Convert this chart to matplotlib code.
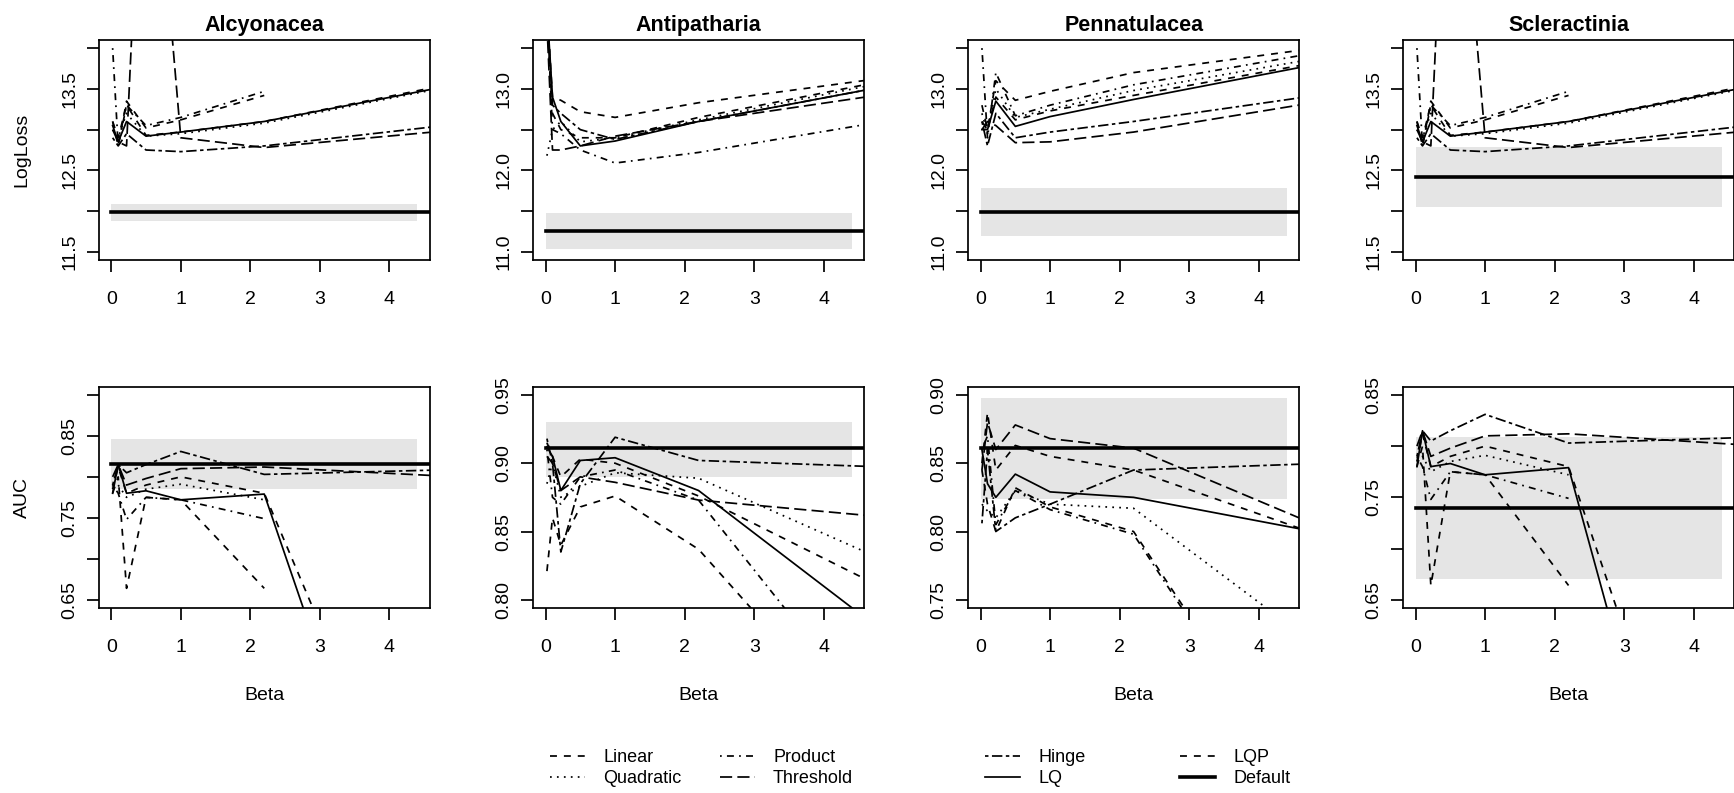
import numpy as np
import matplotlib.pyplot as plt
from matplotlib.lines import Line2D

plt.rcParams['font.family'] = ['Liberation Sans', 'DejaVu Sans']

nan = np.nan

# regularisation multipliers (last point lies beyond the plotted range)
beta = [0.02, 0.1, 0.22, 0.5, 1.0, 2.2, 5.0]

taxa = ['Alcyonacea', 'Antipatharia', 'Pennatulacea', 'Scleractinia']
features = ['Linear', 'Quadratic', 'Product', 'Threshold', 'Hinge', 'LQ', 'LQP']

# ---- LogLoss curves ----
alcy_loss = {
    'Linear':    [13.10, 12.80, 13.35, 13.02, 13.12, 13.42, nan],
    'Quadratic': [13.00, 12.90, 13.20, 12.92, 12.95, 13.08, 13.55],
    'Product':   [14.00, 12.80, 13.30, 13.05, 13.15, 13.47, nan],
    'Threshold': [13.00, 12.85, 12.80, 17.90, 12.90, 12.78, 13.00],
    'Hinge':     [12.90, 12.80, 12.95, 12.75, 12.73, 12.80, 13.07],
    'LQ':        [13.05, 12.85, 13.10, 12.92, 12.97, 13.10, 13.56],
    'LQP':       [13.10, 12.90, 13.30, 12.93, 12.97, 13.10, 13.58],
}
anti_loss = {
    'Linear':    [14.00, 12.90, 12.86, 12.72, 12.65, 12.83, 13.15],
    'Quadratic': [12.18, 12.50, 12.60, 12.35, 12.40, 12.62, 13.10],
    'Product':   [14.00, 12.50, 12.45, 12.25, 12.09, 12.22, 12.62],
    'Threshold': [13.80, 12.25, 12.25, 12.30, 12.42, 12.60, 12.95],
    'Hinge':     [14.00, 12.80, 12.70, 12.50, 12.38, 12.60, 13.05],
    'LQ':        [14.00, 12.90, 12.60, 12.30, 12.36, 12.60, 13.05],
    'LQP':       [13.90, 12.70, 12.50, 12.40, 12.40, 12.65, 13.12],
}
penn_loss = {
    'Linear':    [12.60, 12.50, 13.10, 12.86, 12.97, 13.20, 13.52],
    'Quadratic': [12.70, 12.45, 13.00, 12.65, 12.75, 12.98, 13.40],
    'Product':   [13.50, 12.40, 13.20, 12.67, 12.80, 13.05, 13.47],
    'Threshold': [12.50, 12.60, 12.55, 12.34, 12.35, 12.47, 12.86],
    'Hinge':     [12.60, 12.30, 12.70, 12.40, 12.47, 12.60, 12.94],
    'LQ':        [12.50, 12.50, 12.85, 12.54, 12.66, 12.87, 13.33],
    'LQP':       [12.80, 12.50, 12.90, 12.62, 12.73, 12.92, 13.35],
}
# Scleractinia curves are drawn identical to Alcyonacea in the source figure
scle_loss = alcy_loss

# ---- AUC curves ----
alcy_auc = {
    'Linear':    [0.780, 0.800, 0.664, 0.775, 0.772, 0.664, nan],
    'Quadratic': [0.785, 0.790, 0.775, 0.785, 0.791, 0.772, nan],
    'Product':   [0.790, 0.780, 0.748, 0.775, 0.772, 0.749, nan],
    'Threshold': [0.800, 0.815, 0.790, 0.798, 0.810, 0.812, 0.800],
    'Hinge':     [0.790, 0.815, 0.805, 0.815, 0.831, 0.803, 0.809],
    'LQ':        [0.780, 0.815, 0.780, 0.783, 0.772, 0.779, 0.085],
    'LQP':       [0.785, 0.812, 0.780, 0.790, 0.800, 0.780, 0.220],
}
anti_auc = {
    'Linear':    [0.821, 0.860, 0.840, 0.868, 0.876, 0.837, 0.677],
    'Quadratic': [0.885, 0.900, 0.875, 0.883, 0.893, 0.889, 0.826],
    'Product':   [0.910, 0.875, 0.870, 0.890, 0.895, 0.873, 0.694],
    'Threshold': [0.905, 0.900, 0.880, 0.890, 0.886, 0.873, 0.860],
    'Hinge':     [0.918, 0.900, 0.835, 0.885, 0.919, 0.902, 0.897],
    'LQ':        [0.912, 0.905, 0.880, 0.902, 0.904, 0.880, 0.771],
    'LQP':       [0.915, 0.905, 0.890, 0.903, 0.900, 0.876, 0.805],
}
penn_auc = {
    'Linear':    [0.845, 0.820, 0.800, 0.832, 0.818, 0.800, 0.585],
    'Quadratic': [0.820, 0.815, 0.810, 0.830, 0.820, 0.817, 0.710],
    'Product':   [0.860, 0.870, 0.805, 0.830, 0.816, 0.798, 0.580],
    'Threshold': [0.845, 0.880, 0.860, 0.878, 0.868, 0.861, 0.801],
    'Hinge':     [0.806, 0.860, 0.800, 0.810, 0.820, 0.845, 0.850],
    'LQ':        [0.860, 0.835, 0.825, 0.842, 0.829, 0.825, 0.798],
    'LQP':       [0.850, 0.887, 0.845, 0.863, 0.855, 0.845, 0.795],
}
scle_auc = alcy_auc

loss_curves = [alcy_loss, anti_loss, penn_loss, scle_loss]
auc_curves = [alcy_auc, anti_auc, penn_auc, scle_auc]

# default model value and its interval (grey band)
default_loss = [11.99, 11.26, 11.49, 12.42]
band_loss_lo = [11.88, 11.03, 11.20, 12.05]
band_loss_hi = [12.09, 11.48, 11.78, 12.79]
default_auc = [0.816, 0.911, 0.861, 0.740]
band_auc_lo = [0.785, 0.890, 0.824, 0.670]
band_auc_hi = [0.846, 0.930, 0.898, 0.809]

# axis ranges and tick labels
loss_range = [(11.5, 14.0), (11.0, 13.5), (11.0, 13.5), (11.5, 14.0)]
loss_labels = [['11.5', '12.5', '13.5'], ['11.0', '12.0', '13.0'],
               ['11.0', '12.0', '13.0'], ['11.5', '12.5', '13.5']]
auc_range = [(0.65, 0.90), (0.80, 0.95), (0.75, 0.90), (0.65, 0.85)]
auc_labels = [['0.65', '0.75', '0.85'], ['0.80', '0.85', '0.90', '0.95'],
              ['0.75', '0.80', '0.85', '0.90'], ['0.65', '0.75', '0.85']]

styles = {
    'Linear': (0, (4, 4)),
    'Quadratic': (0, (1, 3)),
    'Product': (0, (1, 3, 4, 3)),
    'Threshold': (0, (7, 3)),
    'Hinge': (0, (2, 2, 6, 2)),
    'LQ': '-',
    'LQP': (0, (4, 4)),
}
LW = 1.25

W, H = 1734, 793
fig = plt.figure(figsize=(W / 100, H / 100), dpi=100)


def px_axes(left, top, width, height):
    return fig.add_axes([left / W, 1 - (top + height) / H, width / W, height / H])


def draw(ax, curves, dflt, lo, hi, rng, labels, step):
    ax.fill_between([0, 4.4], lo, hi, color='#e5e5e5', lw=0, zorder=0)
    for name in features:
        ax.plot(beta, curves[name], color='black', lw=LW, ls=styles[name])
    ax.plot([0, 5], [dflt, dflt], color='black', lw=2.6)
    pad = 0.04 * (rng[1] - rng[0])
    ax.set_xlim(-0.176, 4.576)
    ax.set_ylim(rng[0] - pad, rng[1] + pad)
    ax.set_xticks(range(5))
    ticks = np.arange(rng[0], rng[1] + step / 2, step)
    ax.set_yticks(ticks)
    txt = ['%.2f' % t if step < 0.1 else '%.1f' % t for t in ticks]
    ax.set_yticklabels([t if t in labels else '' for t in txt],
                       rotation=90, va='center')
    ax.tick_params(axis='both', direction='out', length=8.6, width=LW,
                   labelsize=14)
    ax.tick_params(axis='x', pad=13.5)
    ax.tick_params(axis='y', pad=6.5)
    for sp in ax.spines.values():
        sp.set_linewidth(LW)


lefts = [99, 533.3, 968.3, 1403.3]
for i, taxon in enumerate(taxa):
    left = lefts[i]
    cx = left + 165.5
    ax1 = px_axes(left, 40, 330.5, 220)
    draw(ax1, loss_curves[i], default_loss[i], band_loss_lo[i], band_loss_hi[i],
         loss_range[i], loss_labels[i], 0.5)
    ax2 = px_axes(left, 386.7, 330.5, 221.3)
    draw(ax2, auc_curves[i], default_auc[i], band_auc_lo[i], band_auc_hi[i],
         auc_range[i], auc_labels[i], 0.05)
    fig.text(cx / W, 1 - 31 / H, taxon, ha='center', va='baseline',
             fontsize=15.5, fontweight='bold')
    fig.text(cx / W, 1 - 700 / H, 'Beta', ha='center', va='baseline',
             fontsize=14)

fig.text(22 / W, 1 - 150 / H, 'LogLoss', rotation=90, ha='center',
         va='center', fontsize=14)
fig.text(22 / W, 1 - 497 / H, 'AUC', rotation=90, ha='center',
         va='center', fontsize=14)

# legend, four two-row blocks as in the original
legend_groups = [['Linear', 'Quadratic'], ['Product', 'Threshold'],
                 ['Hinge', 'LQ'], ['LQP', 'Default']]
legend_x = [550, 720, 985, 1180]
for names, lx in zip(legend_groups, legend_x):
    handles = []
    for n in names:
        if n == 'Default':
            handles.append(Line2D([], [], color='black', lw=2.6))
        else:
            handles.append(Line2D([], [], color='black', lw=LW, ls=styles[n]))
    fig.legend(handles, names, loc='upper left',
               bbox_to_anchor=(lx / W, 1 - 749 / H), frameon=False,
               borderpad=0, borderaxespad=0, handlelength=1.94,
               handletextpad=1.0, labelspacing=0.22, fontsize=13)

fig.savefig('out.png', dpi=100)
